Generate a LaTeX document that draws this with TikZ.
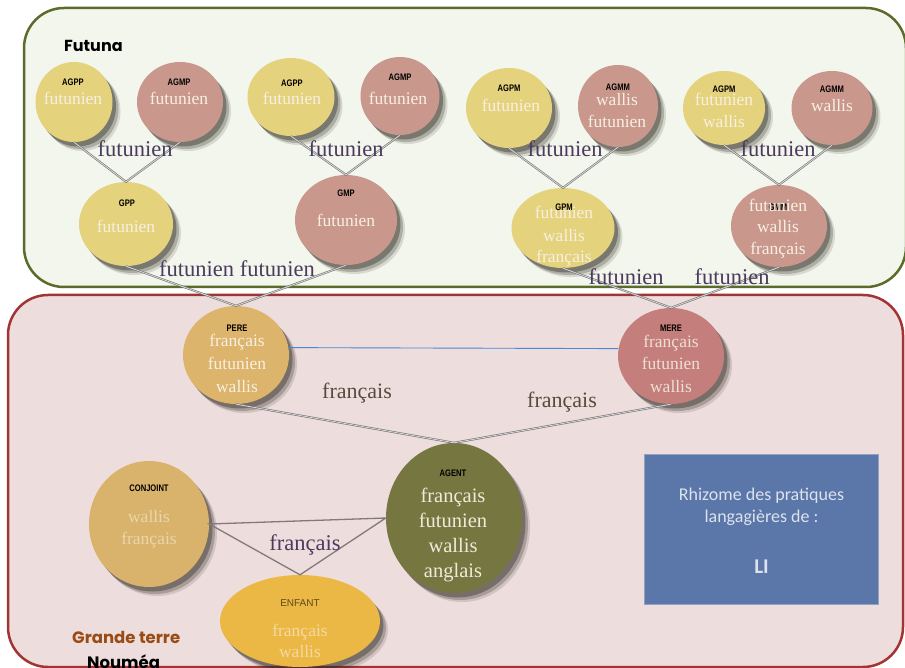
\documentclass[tikz,border=0pt]{standalone}
\usepackage{fontspec}
\setmainfont{Liberation Serif}
\newfontfamily\labfont[FakeStretch=0.8]{Liberation Sans}
\newfontfamily\enffont{Liberation Sans}
\newfontfamily\titfont{Poppins}
\newfontfamily\boxfont{Carlito}
\usetikzlibrary{shapes.geometric,shadows}
\definecolor{greenfill}{HTML}{F3F6EC}
\definecolor{greenline}{HTML}{5B6B2A}
\definecolor{redfill}{HTML}{EDDDDD}
\definecolor{redline}{HTML}{A23434}
\definecolor{yel}{HTML}{E5D27C}
\definecolor{pinkc}{HTML}{C9978C}
\definecolor{perec}{HTML}{DDB46B}
\definecolor{merec}{HTML}{C47F7C}
\definecolor{agentc}{HTML}{767740}
\definecolor{conjc}{HTML}{D9B36B}
\definecolor{enfc}{HTML}{ECB845}
\definecolor{txtc}{HTML}{F7F0E2}
\definecolor{edgepurple}{HTML}{4B3B5E}
\definecolor{edgebrown}{HTML}{5A4A3C}
\definecolor{rectc}{HTML}{5B76A8}
\definecolor{rectline}{HTML}{8FA2C6}
\definecolor{recttxt}{HTML}{DCE3EE}
\definecolor{blueline}{HTML}{4A88D6}
\definecolor{shadowc}{HTML}{2E2A22}
\definecolor{grandec}{HTML}{9A4A14}
\tikzset{
  ell/.style={ellipse, draw=none, inner sep=0pt,
    drop shadow={shadow xshift=8pt, shadow yshift=-9pt, opacity=0.14, fill=shadowc},
    drop shadow={shadow xshift=6pt, shadow yshift=-7pt, opacity=0.25, fill=shadowc},
    drop shadow={shadow xshift=3.5pt, shadow yshift=-4.5pt, opacity=0.4, fill=shadowc}},
  lab/.style={font=\labfont\bfseries\fontsize{9.5}{9.5}\selectfont, text=black, inner sep=0pt, anchor=base},
  lang/.style={font=\fontsize{17.5}{17.5}\selectfont, text=txtc, inner sep=0pt, anchor=base},
  biglang/.style={font=\fontsize{20.5}{20.5}\selectfont, text=txtc!95!agentc, inner sep=0pt, anchor=base},
  elab/.style={font=\fontsize{22.5}{22.5}\selectfont, text=edgepurple, inner sep=0pt, anchor=base},
  blab/.style={font=\fontsize{22}{22}\selectfont, text=edgebrown, inner sep=0pt, anchor=base},
  dl/.style={draw=black!55, line width=0.6pt, double=black!15, double distance=0.8pt},
  tl/.style={draw=black!45!redfill, line width=1.3pt},
  boxtxt/.style={font=\boxfont\fontsize{18}{18}\selectfont, text=recttxt, anchor=base, inner sep=0pt},
}
\begin{document}
\begin{tikzpicture}[x=1pt,y=-1pt]
\useasboundingbox (0,0) rectangle (905,668);
% regions
\draw[greenline, fill=greenfill, line width=2.5pt, rounded corners=40pt] (24,8) rectangle (906,287);
\draw[redline, fill=redfill, line width=2.5pt, rounded corners=40pt] (8,295) rectangle (903,667);
\node[font=\titfont\bfseries\fontsize{16}{16}\selectfont, anchor=base west, inner sep=0pt] (futuna) at (64,52) {Futuna};

% ellipses
\node[ell, fill=yel, minimum width=77pt, minimum height=80pt] (agpp1) at (74,102) {};
\node[ell, fill=pinkc, minimum width=86pt, minimum height=80pt] (agmp1) at (180,102) {};
\node[ell, fill=yel, minimum width=87pt, minimum height=78pt] (agpp2) at (291,97) {};
\node[ell, fill=pinkc, minimum width=79pt, minimum height=78pt] (agmp2) at (400,96) {};
\node[ell, fill=yel, minimum width=94pt, minimum height=84pt] (gpp) at (126,224) {};
\node[ell, fill=pinkc, minimum width=102pt, minimum height=90pt] (gmp) at (346,220) {};
\node[ell, fill=yel, minimum width=86pt, minimum height=80pt] (agpm1) at (509,108) {};
\node[ell, fill=pinkc, minimum width=80pt, minimum height=82pt] (agmm1) at (618,106) {};
\node[ell, fill=yel, minimum width=82pt, minimum height=74pt] (agpm2) at (724,108) {};
\node[ell, fill=pinkc, minimum width=81pt, minimum height=74pt] (agmm2) at (832,108) {};
\node[ell, fill=yel, minimum width=103pt, minimum height=80pt] (gpm) at (563,228) {};
\node[ell, fill=pinkc, minimum width=96pt, minimum height=82pt] (gmm) at (779,226) {};
\node[ell, fill=perec, minimum width=106pt, minimum height=98pt] (pere) at (236,355) {};
\node[ell, fill=merec, minimum width=106pt, minimum height=96pt] (mere) at (671,356) {};
\node[ell, fill=agentc, minimum width=136pt, minimum height=150pt] (agent) at (454,518) {};
\node[ell, fill=conjc, minimum width=120pt, minimum height=126pt] (conj) at (149,524) {};
\node[ell, fill=enfc, minimum width=160pt, minimum height=92pt] (enf) at (300,621) {};

% connectors
\draw[dl] (agpp1.south) -- (gpp.north) -- (agmp1.south);
\draw[dl] (agpp2.south) -- (gmp.north) -- (agmp2.south);
\draw[dl] (agpm1.south) -- (gpm.north) -- (agmm1.south);
\draw[dl] (agpm2.south) -- (gmm.north) -- (agmm2.south);
\draw[dl] (gpp.south) -- (pere.north) -- (gmp.south);
\draw[dl] (gpm.south) -- (mere.north) -- (gmm.south);
\draw[dl] (pere.south) -- (agent.north) -- (mere.south);
\draw[blueline, line width=0.9pt] (pere.8) -- (mere.172);
\draw[tl] (conj.east) -- (agent.west) -- (enf.north) -- cycle;

% in-node labels
\node[lab] (agpp1l) at (73,86) {AGPP};
\node[lang] (agpp1t) at (73,105) {futunien};
\node[lab] (agmp1l) at (179,86) {AGMP};
\node[lang] (agmp1t) at (179,105) {futunien};
\node[lab] (agpp2l) at (292,87) {AGPP};
\node[lang] (agpp2t) at (292,105) {futunien};
\node[lab] (agmp2l) at (400,81) {AGMP};
\node[lang] (agmp2t) at (398,105) {futunien};
\node[lab] (gppl) at (127,207) {GPP};
\node[lang] (gppt) at (126,233) {futunien};
\node[lab] (gmpl) at (346,197) {GMP};
\node[lang] (gmpt) at (346,227) {futunien};

\node[lab] (agpm1l) at (509,92) {AGPM};
\node[lang] (agpm1t) at (511,112) {futunien};
\node[lab] (agmm1l) at (618,91) {AGMM};
\node[lang] (agmm1a) at (617,106) {wallis};
\node[lang] (agmm1b) at (617,128) {futunien};
\node[lab] (agpm2l) at (724,93) {AGPM};
\node[lang] (agpm2a) at (724,106) {futunien};
\node[lang] (agpm2b) at (724,128) {wallis};
\node[lab] (agmm2l) at (832,93) {AGMM};
\node[lang] (agmm2a) at (832,112) {wallis};
\node[lab] (gpml) at (564,211) {GPM};
\node[lang] (gpma) at (564,219) {futunien};
\node[lang] (gpmb) at (564,242) {wallis};
\node[lang] (gpmc) at (564,263) {français};
\node[lab] (gmml) at (778,211) {GMM};
\node[lang] (gmma) at (778,212) {futunien};
\node[lang] (gmmb) at (778,233) {wallis};
\node[lang] (gmmc) at (778,255) {français};

\node[lab] (perel) at (237,332) {PERE};
\node[lang] (perea) at (237,347) {français};
\node[lang] (pereb) at (237,370) {futunien};
\node[lang] (perec) at (237,392) {wallis};
\node[lab] (merel) at (671,332) {MERE};
\node[lang, text=txtc!85!merec] (merea) at (671,348) {français};
\node[lang, text=txtc!85!merec] (mereb) at (671,370) {futunien};
\node[lang, text=txtc!85!merec] (merec) at (671,392) {wallis};

\node[lab] (agentl) at (453,476) {AGENT};
\node[biglang] (agenta) at (453,502) {français};
\node[biglang] (agentb) at (453,527) {futunien};
\node[biglang] (agentc) at (453,552) {wallis};
\node[biglang] (agentd) at (453,577) {anglais};
\node[lab] (conjl) at (149,491) {CONJOINT};
\node[lang, text=txtc!55!conjc] (conja) at (149,522) {wallis};
\node[lang, text=txtc!55!conjc] (conjb) at (149,544) {français};
\node[font=\enffont\fontsize{10}{10}\selectfont, text=black!60!enfc, inner sep=0pt, anchor=base] (enfl) at (300,606) {ENFANT};
\node[lang, text=txtc!60!enfc] (enfa) at (300,636) {français};
\node[lang, text=txtc!60!enfc] (enfb) at (300,657) {wallis};

% edge labels
\node[elab] (e1) at (135,157) {futunien};
\node[elab] (e2) at (346,157) {futunien};
\node[elab] (e3) at (565,157) {futunien};
\node[elab] (e4) at (778,157) {futunien};
\node[elab] (e5) at (237,277) {futunien futunien};
\node[elab] (e6) at (626,285) {futunien};
\node[elab] (e7) at (732,285) {futunien};
\node[blab] (e8) at (357,398) {français};
\node[blab] (e9) at (562,407) {français};
\node[elab] (e10) at (305,550) {français};

% info box
\node[draw=rectline, line width=1.5pt, fill=rectc, minimum width=234pt, minimum height=150pt, inner sep=0pt] (rhizome) at (761.5,529.5) {};
\node[boxtxt] (rh1) at (761.5,500) {Rhizome des pratiques};
\node[boxtxt] (rh2) at (761.5,522) {langagières de :};
\node[font=\boxfont\bfseries\fontsize{21}{21}\selectfont, text=recttxt, anchor=base, inner sep=0pt] (li) at (761.5,573) {LI};

% place labels
\node[font=\titfont\bfseries\fontsize{16.5}{16.5}\selectfont, text=grandec, anchor=base west, inner sep=0pt] (grande) at (72,643) {Grande terre};
\node[font=\titfont\bfseries\fontsize{16.5}{16.5}\selectfont, anchor=base west, inner sep=0pt] (noumea) at (87,668) {Nouméa};
\end{tikzpicture}
\end{document}
